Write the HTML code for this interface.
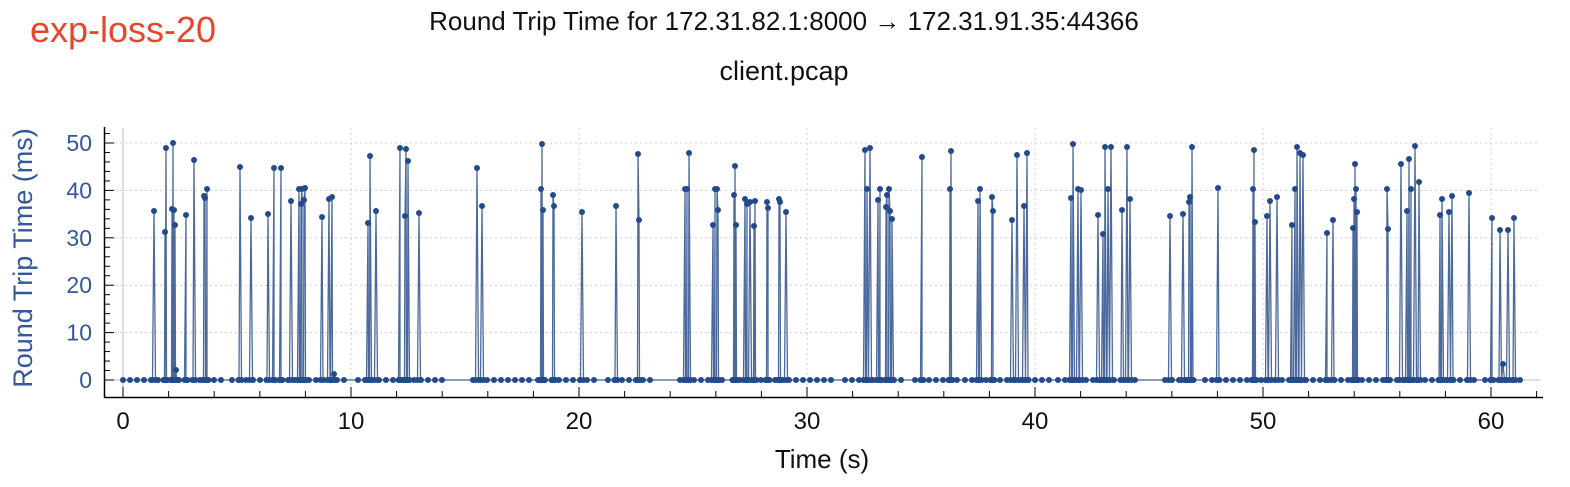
<!DOCTYPE html>
<html><head><meta charset="utf-8"><style>
body{margin:0;background:#fff;width:1570px;height:482px;overflow:hidden}
svg text{font-family:"Liberation Sans",sans-serif}
</style></head><body>
<svg id="s" width="1570" height="482" xmlns="http://www.w3.org/2000/svg">
<text x="30" y="42" font-size="36" fill="#e8452c">exp-loss-20</text>
<text x="784" y="30" font-size="26" text-anchor="middle" fill="#111">Round Trip Time for 172.31.82.1:8000 → 172.31.91.35:44366</text>
<text x="784" y="80" font-size="27" text-anchor="middle" fill="#111">client.pcap</text>
<text x="822" y="468" font-size="26" text-anchor="middle" fill="#111">Time (s)</text>
<text transform="translate(32,258) rotate(-90)" font-size="27" text-anchor="middle" fill="#34569a">Round Trip Time (ms)</text>
<g id="g"></g>
</svg>
<script>
const g=document.getElementById('g');let h='';
const X=t=>123+22.8*t, Y=v=>380-4.74*v;
for(let v=10;v<=50;v+=10)h+=`<line x1="105" x2="1540" y1="${Y(v)}" y2="${Y(v)}" stroke="#ccc" stroke-dasharray="2,3"/>`;
for(let t=10;t<=60;t+=10)h+=`<line y1="128" y2="396" x1="${X(t)}" x2="${X(t)}" stroke="#ccc" stroke-dasharray="2,3"/>`;
h+=`<line x1="105" x2="1540" y1="380" y2="380" stroke="#bbb"/><line y1="128" y2="396" x1="123" x2="123" stroke="#bbb"/>`;
h+=`<line x1="104.5" x2="104.5" y1="127" y2="398" stroke="#000" stroke-width="1.5"/><line x1="104" x2="1543" y1="397.5" y2="397.5" stroke="#000" stroke-width="1.5"/>`;
for(let v=0;v<=52;v+=2){let L=v%10==0?10:6;h+=`<line x1="104" x2="${104+L}" y1="${Y(v)}" y2="${Y(v)}" stroke="#000"/>`;}
for(let v=0;v<=50;v+=10)h+=`<text x="92" y="${Y(v)+8}" font-size="23" text-anchor="end" fill="#34569a">${v}</text>`;
for(let t=0;t<=62;t+=2){let L=t%10==0?10:6;h+=`<line x1="${X(t)}" x2="${X(t)}" y1="397" y2="${397-L}" stroke="#000"/>`;}
for(let t=0;t<=60;t+=10)h+=`<text x="${X(t)}" y="429" font-size="24" text-anchor="middle" fill="#111">${t}</text>`;
const sp=[[154,211],[165,232],[166,148],[172,209],[173,143],[174,210],[175,225],[176,370],[186,215],[194,160],[204,196],[205,198],[207,189],[240,167],[251,218],[268,214],[274,168],[281,168],[291,201],[299,189],[301,204],[302,189],[304,200],[305,188],[322,217],[329,199],[332,197],[334,374],[368,223],[370,156],[376,211],[400,148],[405,216],[406,149],[408,161],[419,213],[477,168],[482,206],[541,189],[542,144],[543,210],[553,195],[554,206],[582,212],[616,206],[638,154],[639,220],[685,189],[687,189],[689,153],[713,225],[715,189],[717,189],[718,210],[734,195],[735,166],[736,225],[745,199],[747,204],[750,202],[754,226],[755,201],[767,202],[768,208],[779,199],[780,202],[786,212],[865,150],[867,189],[870,148],[878,200],[880,189],[886,207],[887,195],[889,189],[890,211],[892,219],[922,157],[950,189],[951,151],[978,201],[980,189],[992,197],[993,211],[1012,220],[1017,155],[1024,206],[1027,153],[1071,198],[1073,144],[1078,189],[1081,190],[1098,215],[1103,234],[1105,147],[1108,189],[1111,147],[1122,210],[1127,147],[1130,199],[1170,216],[1183,214],[1189,202],[1190,197],[1192,147],[1218,188],[1253,189],[1254,150],[1255,222],[1267,216],[1270,201],[1277,197],[1292,225],[1295,189],[1297,147],[1300,153],[1303,155],[1327,233],[1333,220],[1353,228],[1354,199],[1355,164],[1356,189],[1357,212],[1387,189],[1388,229],[1401,164],[1407,211],[1409,159],[1411,189],[1415,146],[1419,182],[1440,215],[1442,199],[1449,212],[1452,196],[1469,193],[1492,218],[1500,230],[1503,364],[1508,230],[1514,218]];
const segs=[[123,222],[232,345],[358,445],[473,530],[538,598],[608,655],[680,728],[733,835],[845,905],[915,960],[965,1050],[1058,1140],[1165,1195],[1205,1290],[1292,1480],[1485,1522]];
let pts=sp.map(p=>[p[0],p[1]]);
segs.forEach(s=>{for(let x=s[0];x<=s[1];x+=7)pts.push([x,380]);});
sp.forEach(p=>{pts.push([p[0]-1.5,380]);pts.push([p[0]+1.5,380]);});
pts.sort((a,b)=>a[0]-b[0]);
h+=`<polyline fill="none" stroke="#2b4f8c" stroke-width="1.3" stroke-opacity="0.85" points="${pts.map(p=>p.join(',')).join(' ')}"/>`;
pts.forEach(p=>h+=`<circle cx="${p[0]}" cy="${p[1]}" r="3" fill="#234a8a"/>`);
g.innerHTML=h;
</script>
</body></html>
